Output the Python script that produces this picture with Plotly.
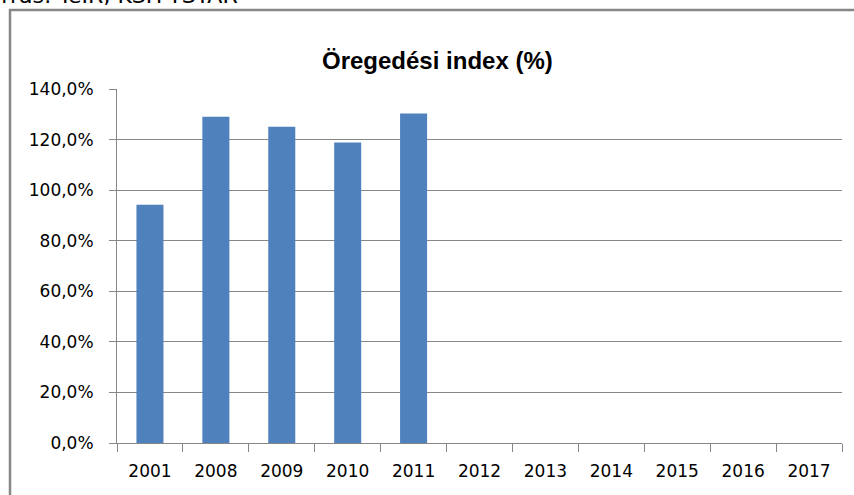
import plotly.graph_objects as go

# Öregedési index adatok (arány, 1.0 = 100%)
years = ['2001', '2008', '2009', '2010', '2011', '2012',
         '2013', '2014', '2015', '2016', '2017']
aging_index = [0.942, 1.290, 1.251, 1.188, 1.303, None,
               None, None, None, None, None]
y_ticks = [0.0, 0.2, 0.4, 0.6, 0.8, 1.0, 1.2, 1.4]

W, H = 854, 495
L, R, T, B = 117, 12, 89, 52
pw, ph = W - L - R, H - T - B


def px_x(x):
    return (x - L) / pw


def px_y(y):
    return (H - B - y) / ph


fig = go.Figure()

fig.add_trace(go.Bar(
    x=years,
    y=aging_index,
    marker=dict(color='#4F81BD', line=dict(width=0)),
    width=0.41,
    showlegend=False,
))

grey = '#878787'

fig.update_layout(
    width=W,
    height=H,
    margin=dict(l=L, r=R, t=T, b=B),
    paper_bgcolor='white',
    plot_bgcolor='white',
    separators=', ',
    font=dict(family='DejaVu Sans', size=17, color='#000000'),
    xaxis=dict(
        type='category',
        showline=True,
        linecolor=grey,
        linewidth=1,
        ticks='outside',
        tickson='boundaries',
        ticklen=8,
        tickcolor=grey,
        showgrid=False,
        ticklabelstandoff=13,
        tickfont=dict(size=17),
    ),
    yaxis=dict(
        range=[0, 1.4],
        tickvals=y_ticks,
        tickformat='.1%',
        showline=True,
        linecolor=grey,
        linewidth=1,
        ticks='outside',
        ticklen=7,
        tickcolor=grey,
        showgrid=True,
        gridcolor=grey,
        gridwidth=1,
        zeroline=False,
        ticklabelstandoff=12,
        tickfont=dict(size=17),
    ),
)

# Diagram címe
fig.add_annotation(
    xref='paper', yref='paper',
    x=px_x(437), y=px_y(45),
    text='<b>Öregedési index (%)</b>',
    showarrow=False,
    font=dict(family='Liberation Sans', size=24, color='#000000'),
)

# Forrás sor, a kép tetején levágva
fig.add_annotation(
    xref='paper', yref='paper',
    x=px_x(240), y=px_y(10),
    xanchor='right', yanchor='bottom',
    text='Forrás: TeIR, KSH-TSTAR',
    showarrow=False,
    font=dict(family='DejaVu Sans', size=22, color='#000000'),
)

# Külső keret
fig.add_shape(
    type='rect',
    xref='paper', yref='paper',
    x0=px_x(10), x1=px_x(900),
    y0=px_y(530), y1=px_y(10),
    line=dict(color=grey, width=2.5),
    fillcolor='rgba(0,0,0,0)',
    layer='below',
)

fig.write_html('out.html', config={'displayModeBar': False},
               post_script="document.body.style.margin='0';")
